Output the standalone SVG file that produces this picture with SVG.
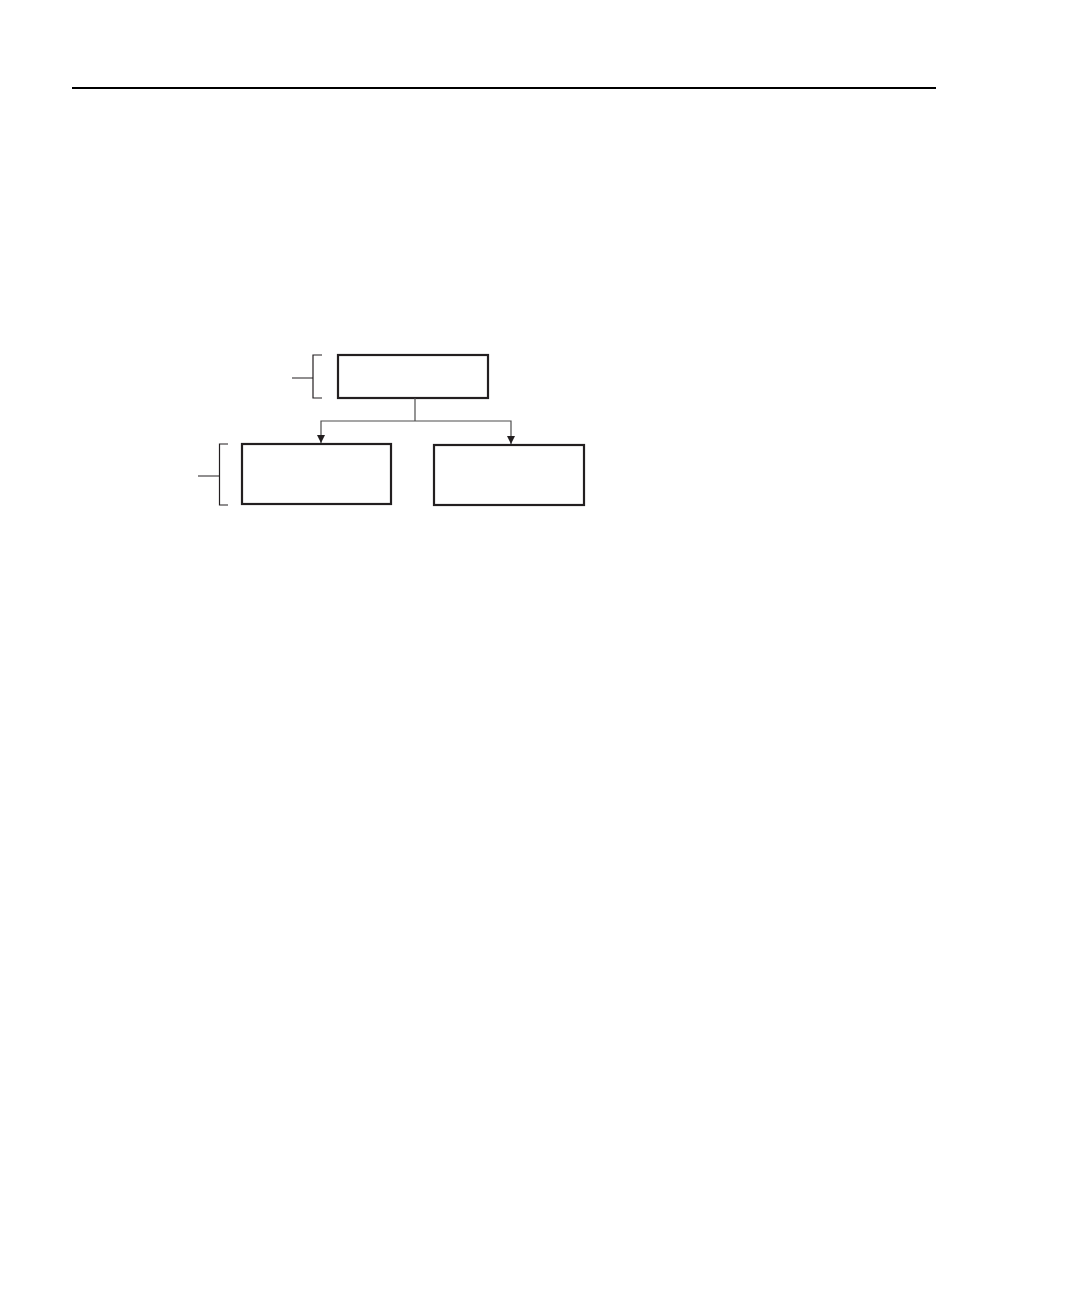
<svg xmlns="http://www.w3.org/2000/svg" width="1080" height="1298" viewBox="0 0 1080 1298">
<defs>
<style>
.box{fill:none;stroke:#231f20;stroke-width:2.2}
.ln{fill:none;stroke:#231f20;stroke-width:1.2}
.cn{fill:none;stroke:#4d4d4d;stroke-width:1.2}
</style>
<marker id="arr" viewBox="0 0 10 10" refX="10" refY="5" markerWidth="8" markerHeight="8" markerUnits="userSpaceOnUse" orient="auto">
<path d="M0,0 L10,5 L0,10 Z" fill="#231f20"/>
</marker>
</defs>
<rect width="1080" height="1298" fill="#ffffff"/>
<line x1="72" y1="88" x2="936" y2="88" stroke="#000" stroke-width="2.2"/>
<g id="top-node"><rect class="box" x="338" y="355" width="150" height="43"/></g>
<g id="left-node"><rect class="box" x="242" y="444" width="149" height="60"/></g>
<g id="right-node"><rect class="box" x="434" y="445" width="150" height="60"/></g>
<g id="brackets">
<path class="ln" d="M322,355 H313 V398 H322 M292,378 H313"/>
<path class="ln" d="M228,444 H219.5 V505 H228 M198,476 H219.5"/>
</g>
<g id="connectors">
<path class="cn" d="M415,398 V421"/>
<path class="cn" d="M415,421 H321 V443" marker-end="url(#arr)"/>
<path class="cn" d="M415,421 H511 V444" marker-end="url(#arr)"/>
</g>
</svg>
